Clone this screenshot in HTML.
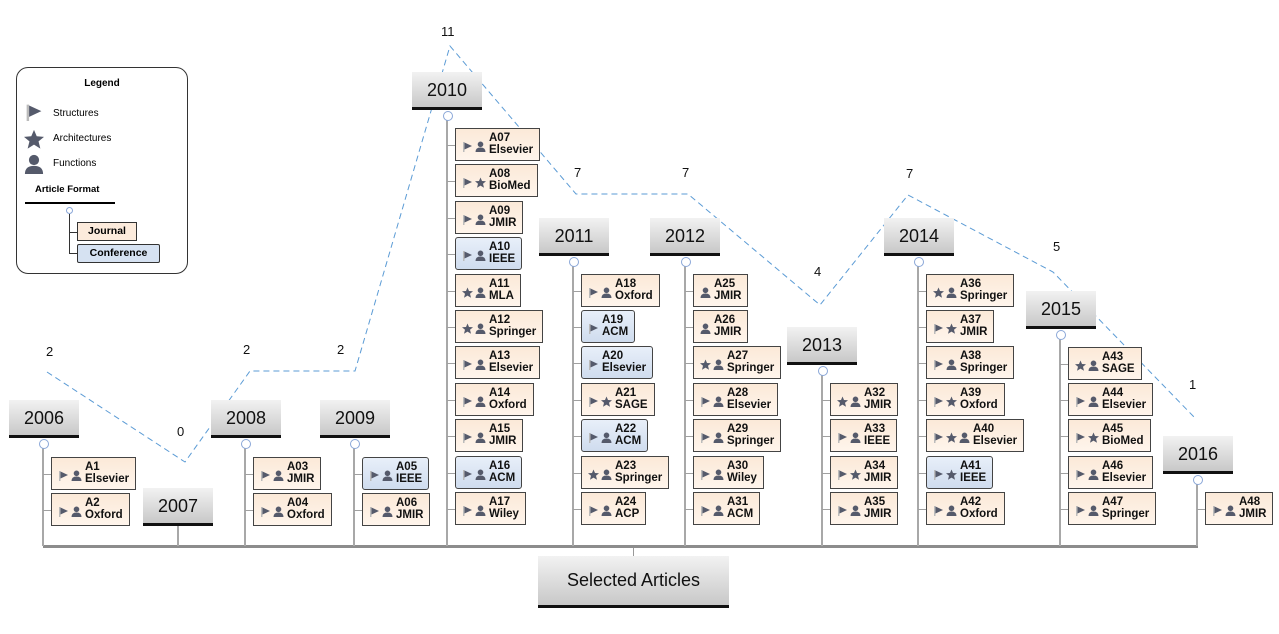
<!DOCTYPE html>
<html><head><meta charset="utf-8"><style>
body{margin:0;width:1279px;height:634px;background:#fff;position:relative;overflow:hidden;font-family:"Liberation Sans",sans-serif}
.y{position:absolute;width:70px;height:35px;background:linear-gradient(#f2f2f2,#c8c8c8);border-bottom:3px solid #111;font-size:18px;line-height:36px;text-align:center;color:#111}
.t{position:absolute;width:2px;background:#a8a8a8}
.c{position:absolute;width:8px;height:8px;border:1px solid #8aa7d8;border-radius:50%;background:#fff;margin-left:-4px}
.h{position:absolute;height:1px;width:9px;background:#a0a0a0}
.n{position:absolute;height:31px;border:1px solid #444;background:linear-gradient(#fbe9d8,#fff5ec);display:flex;align-items:center;padding:0 6px 0 6px;box-sizing:content-box}
.n.cf{background:linear-gradient(#e8eff9,#cfdcee);border-radius:3px}
.n .i{display:flex;align-items:center;gap:2px;margin-right:3px;margin-top:3px}
.n b{font-size:11.5px;line-height:13px;color:#111;display:block;margin-top:-1px}
.n svg{width:11px;height:11px;display:block}
.lb{position:absolute;font-size:13px;color:#111}
</style></head><body>
<svg width="0" height="0" style="position:absolute">
<defs>
<g id="f"><rect x="1" y="1" width="1.5" height="10" fill="#bbb"/><polygon points="2.5,1.5 10,5 2.5,8.5" fill="#555a6b"/></g>
<g id="s"><polygon points="5.5,0.5 7,4 11,4.3 8,6.8 9,10.8 5.5,8.6 2,10.8 3,6.8 0,4.3 4,4" fill="#555a6b"/></g>
<g id="p"><circle cx="5.5" cy="3.3" r="2.8" fill="#555a6b"/><path d="M0.5 11 Q0.5 6.5 5.5 6.5 Q10.5 6.5 10.5 11Z" fill="#555a6b"/></g>
</defs></svg>

<svg style="position:absolute;left:0;top:0" width="1279" height="634">
<polyline points="47,372 185,462 250,371 355,371 450,46 576,194 688,194 820,305 908,195 1053,272 1195,418" fill="none" stroke="#5b9bd5" stroke-width="1" stroke-dasharray="6,4"/>
<rect x="43" y="545" width="1155" height="3" fill="#8c8c8c"/>
<rect x="633" y="548" width="1" height="8" fill="#999"/>
</svg>
<div class="lb" style="left:46px;top:344px">2</div>
<div class="lb" style="left:177px;top:424px">0</div>
<div class="lb" style="left:243px;top:342px">2</div>
<div class="lb" style="left:337px;top:342px">2</div>
<div class="lb" style="left:441px;top:24px">11</div>
<div class="lb" style="left:574px;top:165px">7</div>
<div class="lb" style="left:682px;top:165px">7</div>
<div class="lb" style="left:814px;top:264px">4</div>
<div class="lb" style="left:906px;top:166px">7</div>
<div class="lb" style="left:1053px;top:239px">5</div>
<div class="lb" style="left:1189px;top:377px">1</div>

<div style="position:absolute;left:16px;top:67px;width:170px;height:205px;border:1px solid #333;border-radius:12px;background:#fff">
<div style="position:absolute;left:0;width:170px;top:10px;text-align:center;font-size:10px;font-weight:bold">Legend</div>
<svg style="position:absolute;left:8px;top:34px" width="18" height="20" viewBox="0 0 11 11"><use href="#f"/></svg>
<div style="position:absolute;left:36px;top:40px;font-size:10px">Structures</div>
<svg style="position:absolute;left:7px;top:61px" width="20" height="20" viewBox="0 0 11 11"><use href="#s"/></svg>
<div style="position:absolute;left:36px;top:65px;font-size:10px">Architectures</div>
<svg style="position:absolute;left:7px;top:85px" width="20" height="22" viewBox="0 0 11 11"><use href="#p"/></svg>
<div style="position:absolute;left:36px;top:90px;font-size:10px">Functions</div>
<div style="position:absolute;left:18px;top:116px;font-size:9.5px;font-weight:bold">Article Format</div>
<div style="position:absolute;left:8px;top:134px;width:90px;height:2px;background:#000"></div>
<div class="c" style="left:53px;top:139px;width:5px;height:5px"></div>
<div style="position:absolute;left:52px;top:146px;width:1px;height:40px;background:#333"></div>
<div style="position:absolute;left:52px;top:164px;width:10px;height:1px;background:#333"></div>
<div style="position:absolute;left:52px;top:185px;width:10px;height:1px;background:#333"></div>
<div style="position:absolute;left:60px;top:154px;width:58px;height:17px;border:1px solid #333;background:#fcebdc;font-size:10.5px;font-weight:bold;line-height:17px;text-align:center">Journal</div>
<div style="position:absolute;left:60px;top:176px;width:81px;height:17px;border:1px solid #333;border-radius:2px;background:#d6e2f2;font-size:10.5px;font-weight:bold;line-height:17px;text-align:center">Conference</div>
</div>

<div class="y" style="left:9px;top:400px">2006</div>
<div class="y" style="left:143px;top:488px">2007</div>
<div class="y" style="left:211px;top:400px">2008</div>
<div class="y" style="left:320px;top:400px">2009</div>
<div class="y" style="left:412px;top:72px">2010</div>
<div class="y" style="left:539px;top:218px">2011</div>
<div class="y" style="left:650px;top:218px">2012</div>
<div class="y" style="left:787px;top:327px">2013</div>
<div class="y" style="left:884px;top:218px">2014</div>
<div class="y" style="left:1026px;top:291px">2015</div>
<div class="y" style="left:1163px;top:436px">2016</div>
<div style="position:absolute;left:538px;top:556px;width:191px;height:49px;background:linear-gradient(#f2f2f2,#c8c8c8);border-bottom:3px solid #111;font-size:18px;line-height:49px;text-align:center;color:#111">Selected Articles</div>

<div class="t" style="left:42px;top:446px;height:100px"></div><div class="c" style="left:43px;top:439px"></div>
<div class="t" style="left:177px;top:526px;height:20px"></div>
<div class="t" style="left:244px;top:446px;height:100px"></div><div class="c" style="left:245px;top:439px"></div>
<div class="t" style="left:353px;top:446px;height:100px"></div><div class="c" style="left:354px;top:439px"></div>
<div class="t" style="left:446px;top:118px;height:428px"></div><div class="c" style="left:447px;top:111px"></div>
<div class="t" style="left:572px;top:264px;height:282px"></div><div class="c" style="left:573px;top:257px"></div>
<div class="t" style="left:684px;top:264px;height:282px"></div><div class="c" style="left:685px;top:257px"></div>
<div class="t" style="left:821px;top:373px;height:173px"></div><div class="c" style="left:822px;top:366px"></div>
<div class="t" style="left:917px;top:264px;height:282px"></div><div class="c" style="left:918px;top:257px"></div>
<div class="t" style="left:1059px;top:337px;height:209px"></div><div class="c" style="left:1060px;top:330px"></div>
<div class="t" style="left:1196px;top:482px;height:64px"></div><div class="c" style="left:1197px;top:475px"></div>

<div class="h" style="left:43px;top:474px"></div><div class="n" style="left:51px;top:457px"><span class="i"><svg viewBox="0 0 11 11"><use href="#f"/></svg><svg viewBox="0 0 11 11"><use href="#p"/></svg></span><span><b>A1</b><b>Elsevier</b></span></div>
<div class="h" style="left:43px;top:510px"></div><div class="n" style="left:51px;top:493px"><span class="i"><svg viewBox="0 0 11 11"><use href="#f"/></svg><svg viewBox="0 0 11 11"><use href="#p"/></svg></span><span><b>A2</b><b>Oxford</b></span></div>
<div class="h" style="left:245px;top:474px"></div><div class="n" style="left:253px;top:457px"><span class="i"><svg viewBox="0 0 11 11"><use href="#f"/></svg><svg viewBox="0 0 11 11"><use href="#p"/></svg></span><span><b>A03</b><b>JMIR</b></span></div>
<div class="h" style="left:245px;top:510px"></div><div class="n" style="left:253px;top:493px"><span class="i"><svg viewBox="0 0 11 11"><use href="#f"/></svg><svg viewBox="0 0 11 11"><use href="#p"/></svg></span><span><b>A04</b><b>Oxford</b></span></div>
<div class="h" style="left:354px;top:474px"></div><div class="n cf" style="left:362px;top:457px"><span class="i"><svg viewBox="0 0 11 11"><use href="#f"/></svg><svg viewBox="0 0 11 11"><use href="#p"/></svg></span><span><b>A05</b><b>IEEE</b></span></div>
<div class="h" style="left:354px;top:510px"></div><div class="n" style="left:362px;top:493px"><span class="i"><svg viewBox="0 0 11 11"><use href="#f"/></svg><svg viewBox="0 0 11 11"><use href="#p"/></svg></span><span><b>A06</b><b>JMIR</b></span></div>

<div class="h" style="left:447px;top:145px"></div><div class="n" style="left:455px;top:128px"><span class="i"><svg viewBox="0 0 11 11"><use href="#f"/></svg><svg viewBox="0 0 11 11"><use href="#p"/></svg></span><span><b>A07</b><b>Elsevier</b></span></div>
<div class="h" style="left:447px;top:181px"></div><div class="n" style="left:455px;top:164px"><span class="i"><svg viewBox="0 0 11 11"><use href="#f"/></svg><svg viewBox="0 0 11 11"><use href="#s"/></svg></span><span><b>A08</b><b>BioMed</b></span></div>
<div class="h" style="left:447px;top:218px"></div><div class="n" style="left:455px;top:201px"><span class="i"><svg viewBox="0 0 11 11"><use href="#f"/></svg><svg viewBox="0 0 11 11"><use href="#p"/></svg></span><span><b>A09</b><b>JMIR</b></span></div>
<div class="h" style="left:447px;top:254px"></div><div class="n cf" style="left:455px;top:237px"><span class="i"><svg viewBox="0 0 11 11"><use href="#f"/></svg><svg viewBox="0 0 11 11"><use href="#p"/></svg></span><span><b>A10</b><b>IEEE</b></span></div>
<div class="h" style="left:447px;top:291px"></div><div class="n" style="left:455px;top:274px"><span class="i"><svg viewBox="0 0 11 11"><use href="#s"/></svg><svg viewBox="0 0 11 11"><use href="#p"/></svg></span><span><b>A11</b><b>MLA</b></span></div>
<div class="h" style="left:447px;top:327px"></div><div class="n" style="left:455px;top:310px"><span class="i"><svg viewBox="0 0 11 11"><use href="#s"/></svg><svg viewBox="0 0 11 11"><use href="#p"/></svg></span><span><b>A12</b><b>Springer</b></span></div>
<div class="h" style="left:447px;top:363px"></div><div class="n" style="left:455px;top:346px"><span class="i"><svg viewBox="0 0 11 11"><use href="#f"/></svg><svg viewBox="0 0 11 11"><use href="#p"/></svg></span><span><b>A13</b><b>Elsevier</b></span></div>
<div class="h" style="left:447px;top:400px"></div><div class="n" style="left:455px;top:383px"><span class="i"><svg viewBox="0 0 11 11"><use href="#f"/></svg><svg viewBox="0 0 11 11"><use href="#p"/></svg></span><span><b>A14</b><b>Oxford</b></span></div>
<div class="h" style="left:447px;top:436px"></div><div class="n" style="left:455px;top:419px"><span class="i"><svg viewBox="0 0 11 11"><use href="#f"/></svg><svg viewBox="0 0 11 11"><use href="#p"/></svg></span><span><b>A15</b><b>JMIR</b></span></div>
<div class="h" style="left:447px;top:473px"></div><div class="n cf" style="left:455px;top:456px"><span class="i"><svg viewBox="0 0 11 11"><use href="#f"/></svg><svg viewBox="0 0 11 11"><use href="#p"/></svg></span><span><b>A16</b><b>ACM</b></span></div>
<div class="h" style="left:447px;top:509px"></div><div class="n" style="left:455px;top:492px"><span class="i"><svg viewBox="0 0 11 11"><use href="#f"/></svg><svg viewBox="0 0 11 11"><use href="#p"/></svg></span><span><b>A17</b><b>Wiley</b></span></div>

<div class="h" style="left:573px;top:291px"></div><div class="n" style="left:581px;top:274px"><span class="i"><svg viewBox="0 0 11 11"><use href="#f"/></svg><svg viewBox="0 0 11 11"><use href="#p"/></svg></span><span><b>A18</b><b>Oxford</b></span></div>
<div class="h" style="left:573px;top:327px"></div><div class="n cf" style="left:581px;top:310px"><span class="i"><svg viewBox="0 0 11 11"><use href="#f"/></svg></span><span><b>A19</b><b>ACM</b></span></div>
<div class="h" style="left:573px;top:363px"></div><div class="n cf" style="left:581px;top:346px"><span class="i"><svg viewBox="0 0 11 11"><use href="#f"/></svg></span><span><b>A20</b><b>Elsevier</b></span></div>
<div class="h" style="left:573px;top:400px"></div><div class="n" style="left:581px;top:383px"><span class="i"><svg viewBox="0 0 11 11"><use href="#f"/></svg><svg viewBox="0 0 11 11"><use href="#s"/></svg></span><span><b>A21</b><b>SAGE</b></span></div>
<div class="h" style="left:573px;top:436px"></div><div class="n cf" style="left:581px;top:419px"><span class="i"><svg viewBox="0 0 11 11"><use href="#f"/></svg><svg viewBox="0 0 11 11"><use href="#p"/></svg></span><span><b>A22</b><b>ACM</b></span></div>
<div class="h" style="left:573px;top:473px"></div><div class="n" style="left:581px;top:456px"><span class="i"><svg viewBox="0 0 11 11"><use href="#s"/></svg><svg viewBox="0 0 11 11"><use href="#p"/></svg></span><span><b>A23</b><b>Springer</b></span></div>
<div class="h" style="left:573px;top:509px"></div><div class="n" style="left:581px;top:492px"><span class="i"><svg viewBox="0 0 11 11"><use href="#f"/></svg><svg viewBox="0 0 11 11"><use href="#p"/></svg></span><span><b>A24</b><b>ACP</b></span></div>

<div class="h" style="left:685px;top:291px"></div><div class="n" style="left:693px;top:274px"><span class="i"><svg viewBox="0 0 11 11"><use href="#p"/></svg></span><span><b>A25</b><b>JMIR</b></span></div>
<div class="h" style="left:685px;top:327px"></div><div class="n" style="left:693px;top:310px"><span class="i"><svg viewBox="0 0 11 11"><use href="#p"/></svg></span><span><b>A26</b><b>JMIR</b></span></div>
<div class="h" style="left:685px;top:363px"></div><div class="n" style="left:693px;top:346px"><span class="i"><svg viewBox="0 0 11 11"><use href="#s"/></svg><svg viewBox="0 0 11 11"><use href="#p"/></svg></span><span><b>A27</b><b>Springer</b></span></div>
<div class="h" style="left:685px;top:400px"></div><div class="n" style="left:693px;top:383px"><span class="i"><svg viewBox="0 0 11 11"><use href="#f"/></svg><svg viewBox="0 0 11 11"><use href="#p"/></svg></span><span><b>A28</b><b>Elsevier</b></span></div>
<div class="h" style="left:685px;top:436px"></div><div class="n" style="left:693px;top:419px"><span class="i"><svg viewBox="0 0 11 11"><use href="#f"/></svg><svg viewBox="0 0 11 11"><use href="#p"/></svg></span><span><b>A29</b><b>Springer</b></span></div>
<div class="h" style="left:685px;top:473px"></div><div class="n" style="left:693px;top:456px"><span class="i"><svg viewBox="0 0 11 11"><use href="#f"/></svg><svg viewBox="0 0 11 11"><use href="#p"/></svg></span><span><b>A30</b><b>Wiley</b></span></div>
<div class="h" style="left:685px;top:509px"></div><div class="n" style="left:693px;top:492px"><span class="i"><svg viewBox="0 0 11 11"><use href="#f"/></svg><svg viewBox="0 0 11 11"><use href="#p"/></svg></span><span><b>A31</b><b>ACM</b></span></div>

<div class="h" style="left:822px;top:400px"></div><div class="n" style="left:830px;top:383px"><span class="i"><svg viewBox="0 0 11 11"><use href="#s"/></svg><svg viewBox="0 0 11 11"><use href="#p"/></svg></span><span><b>A32</b><b>JMIR</b></span></div>
<div class="h" style="left:822px;top:436px"></div><div class="n" style="left:830px;top:419px"><span class="i"><svg viewBox="0 0 11 11"><use href="#f"/></svg><svg viewBox="0 0 11 11"><use href="#p"/></svg></span><span><b>A33</b><b>IEEE</b></span></div>
<div class="h" style="left:822px;top:473px"></div><div class="n" style="left:830px;top:456px"><span class="i"><svg viewBox="0 0 11 11"><use href="#f"/></svg><svg viewBox="0 0 11 11"><use href="#s"/></svg></span><span><b>A34</b><b>JMIR</b></span></div>
<div class="h" style="left:822px;top:509px"></div><div class="n" style="left:830px;top:492px"><span class="i"><svg viewBox="0 0 11 11"><use href="#f"/></svg><svg viewBox="0 0 11 11"><use href="#p"/></svg></span><span><b>A35</b><b>JMIR</b></span></div>

<div class="h" style="left:918px;top:291px"></div><div class="n" style="left:926px;top:274px"><span class="i"><svg viewBox="0 0 11 11"><use href="#s"/></svg><svg viewBox="0 0 11 11"><use href="#p"/></svg></span><span><b>A36</b><b>Springer</b></span></div>
<div class="h" style="left:918px;top:327px"></div><div class="n" style="left:926px;top:310px"><span class="i"><svg viewBox="0 0 11 11"><use href="#f"/></svg><svg viewBox="0 0 11 11"><use href="#s"/></svg></span><span><b>A37</b><b>JMIR</b></span></div>
<div class="h" style="left:918px;top:363px"></div><div class="n" style="left:926px;top:346px"><span class="i"><svg viewBox="0 0 11 11"><use href="#f"/></svg><svg viewBox="0 0 11 11"><use href="#p"/></svg></span><span><b>A38</b><b>Springer</b></span></div>
<div class="h" style="left:918px;top:400px"></div><div class="n" style="left:926px;top:383px"><span class="i"><svg viewBox="0 0 11 11"><use href="#f"/></svg><svg viewBox="0 0 11 11"><use href="#s"/></svg></span><span><b>A39</b><b>Oxford</b></span></div>
<div class="h" style="left:918px;top:436px"></div><div class="n" style="left:926px;top:419px"><span class="i"><svg viewBox="0 0 11 11"><use href="#f"/></svg><svg viewBox="0 0 11 11"><use href="#s"/></svg><svg viewBox="0 0 11 11"><use href="#p"/></svg></span><span><b>A40</b><b>Elsevier</b></span></div>
<div class="h" style="left:918px;top:473px"></div><div class="n cf" style="left:926px;top:456px"><span class="i"><svg viewBox="0 0 11 11"><use href="#f"/></svg><svg viewBox="0 0 11 11"><use href="#s"/></svg></span><span><b>A41</b><b>IEEE</b></span></div>
<div class="h" style="left:918px;top:509px"></div><div class="n" style="left:926px;top:492px"><span class="i"><svg viewBox="0 0 11 11"><use href="#f"/></svg><svg viewBox="0 0 11 11"><use href="#p"/></svg></span><span><b>A42</b><b>Oxford</b></span></div>

<div class="h" style="left:1060px;top:364px"></div><div class="n" style="left:1068px;top:347px"><span class="i"><svg viewBox="0 0 11 11"><use href="#s"/></svg><svg viewBox="0 0 11 11"><use href="#p"/></svg></span><span><b>A43</b><b>SAGE</b></span></div>
<div class="h" style="left:1060px;top:400px"></div><div class="n" style="left:1068px;top:383px"><span class="i"><svg viewBox="0 0 11 11"><use href="#f"/></svg><svg viewBox="0 0 11 11"><use href="#p"/></svg></span><span><b>A44</b><b>Elsevier</b></span></div>
<div class="h" style="left:1060px;top:436px"></div><div class="n" style="left:1068px;top:419px"><span class="i"><svg viewBox="0 0 11 11"><use href="#f"/></svg><svg viewBox="0 0 11 11"><use href="#s"/></svg></span><span><b>A45</b><b>BioMed</b></span></div>
<div class="h" style="left:1060px;top:473px"></div><div class="n" style="left:1068px;top:456px"><span class="i"><svg viewBox="0 0 11 11"><use href="#f"/></svg><svg viewBox="0 0 11 11"><use href="#p"/></svg></span><span><b>A46</b><b>Elsevier</b></span></div>
<div class="h" style="left:1060px;top:509px"></div><div class="n" style="left:1068px;top:492px"><span class="i"><svg viewBox="0 0 11 11"><use href="#f"/></svg><svg viewBox="0 0 11 11"><use href="#p"/></svg></span><span><b>A47</b><b>Springer</b></span></div>

<div class="h" style="left:1197px;top:509px"></div><div class="n" style="left:1205px;top:492px"><span class="i"><svg viewBox="0 0 11 11"><use href="#f"/></svg><svg viewBox="0 0 11 11"><use href="#p"/></svg></span><span><b>A48</b><b>JMIR</b></span></div>
</body></html>
